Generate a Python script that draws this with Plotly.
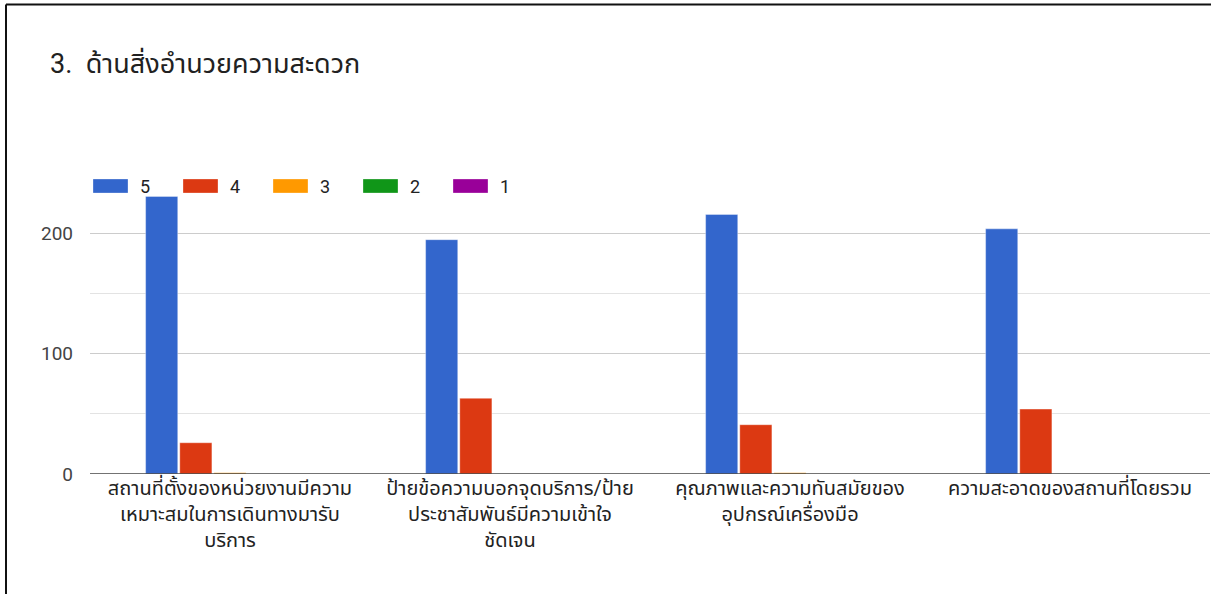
import plotly.graph_objects as go

categories = [
    "สถานที่ตั้งของหน่วยงานมีความ<br>เหมาะสมในการเดินทางมารับ<br>บริการ",
    "ป้ายข้อความบอกจุดบริการ/ป้าย<br>ประชาสัมพันธ์มีความเข้าใจ<br>ชัดเจน",
    "คุณภาพและความทันสมัยของ<br>อุปกรณ์เครื่องมือ",
    "ความสะอาดของสถานที่โดยรวม",
]
series_names = ["5", "4", "3", "2", "1"]
values_5 = [231, 195, 216, 204]
values_4 = [26, 63, 41, 54]
values_3 = [1, 0, 1, 0]
values_2 = [0, 0, 0, 0]
values_1 = [0, 0, 0, 0]
series_values = [values_5, values_4, values_3, values_2, values_1]
colors = ["#3366cc", "#dc3912", "#ff9900", "#109618", "#990099"]
y_ticks = [0, 100, 200]
title_text = "3.  ด้านสิ่งอำนวยความสะดวก"

W, H = 1211, 594
ML, MR, MT, MB = 90, 1, 173, 120
PW, PH = W - ML - MR, H - MT - MB

def px(x):
    return (x - ML) / PW

def py(y):
    return (H - MB - y) / PH

FONT = "Roboto, Arial, 'Noto Sans Thai', sans-serif"

fig = go.Figure()
for name, vals, col in zip(series_names, series_values, colors):
    fig.add_trace(go.Bar(
        x=categories, y=vals, name=name, marker_color=col,
        marker_line_width=0.6, marker_line_color="rgba(255,255,255,0.6)",
        showlegend=False,
    ))

shapes = []
annotations = []
# custom legend (swatches + labels)
for i, (name, col) in enumerate(zip(series_names, colors)):
    x0 = 93 + i * 90
    shapes.append(dict(type="rect", xref="paper", yref="paper",
                       x0=px(x0), x1=px(x0 + 35), y0=py(193), y1=py(179),
                       fillcolor=col, line=dict(width=0.6, color="rgba(255,255,255,0.5)")))
    annotations.append(dict(text=name, xref="paper", yref="paper",
                            x=px(x0 + 45), y=py(186), xanchor="left", yanchor="middle",
                            showarrow=False, font=dict(size=18, color="#222222", family=FONT)))

# screenshot frame lines
shapes.append(dict(type="line", xref="paper", yref="paper",
                   x0=px(6), x1=px(W + 5), y0=py(4.5), y1=py(4.5),
                   line=dict(color="#111111", width=2)))
shapes.append(dict(type="line", xref="paper", yref="paper",
                   x0=px(6), x1=px(6), y0=py(4.5), y1=py(H + 5),
                   line=dict(color="#111111", width=2)))
# baseline
shapes.append(dict(type="line", xref="paper", yref="y",
                   x0=0, x1=1, y0=0, y1=0, line=dict(color="#444444", width=1.5)))

annotations.append(dict(text=title_text, xref="paper", yref="paper",
                        x=px(48), y=py(63), xanchor="left", yanchor="middle",
                        showarrow=False, font=dict(size=27, color="#212121", family=FONT)))

fig.update_layout(
    width=W, height=H,
    margin=dict(l=ML, r=MR, t=MT, b=MB),
    paper_bgcolor="white", plot_bgcolor="white",
    barmode="group", bargap=0.39, bargroupgap=0.06,
    shapes=shapes, annotations=annotations,
    font=dict(family=FONT, size=19, color="#222222"),
)
fig.update_xaxes(
    showgrid=False, showline=False, zeroline=False, ticks="",
    tickfont=dict(size=20, color="#222222"),
    tickangle=0,
)
fig.update_yaxes(
    range=[0, 250.5], tickvals=y_ticks, showgrid=True, gridcolor="#cccccc", gridwidth=1,
    zeroline=False, showline=False, ticks="",
    tickfont=dict(size=19, color="#444444"),
    ticklabelstandoff=16,
    minor=dict(tickvals=[50, 150, 250], showgrid=True, gridcolor="#e3e3e3", gridwidth=1),
)

fig.write_html(
    "out.html",
    config={"displayModeBar": False},
    post_script="document.body.style.margin='0';document.body.style.overflow='hidden';",
)
